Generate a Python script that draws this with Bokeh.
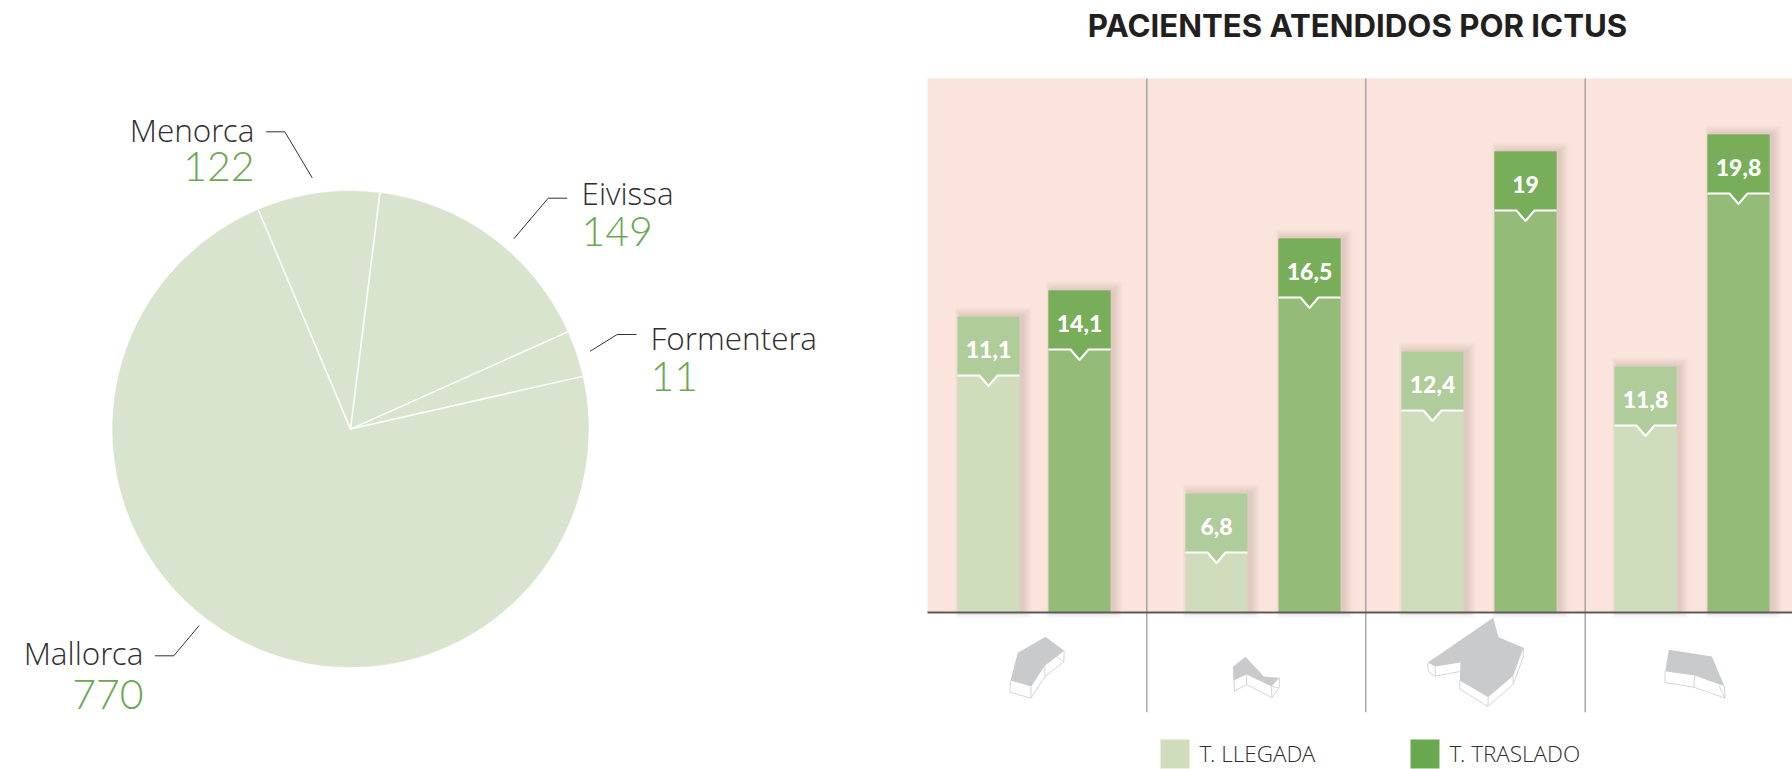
from math import radians, cos, sin
from bokeh.plotting import figure
from bokeh.models import Range1d
from bokeh.core.properties import value
from bokeh.embed import file_html
from bokeh.resources import INLINE

# ---- data ----
TITLE = "PACIENTES ATENDIDOS POR ICTUS"
islands = ["Menorca", "Eivissa", "Formentera", "Mallorca"]
patients = ["122", "149", "11", "770"]
# The drawn slices are not proportional to the printed numbers: spans as measured (degrees)
slice_degrees = [29.9, 58.8, 11.3, 260.0]

llegada_labels = ["11,1", "6,8", "12,4", "11,8"]
traslado_labels = ["14,1", "16,5", "19", "19,8"]
# The drawn bars are not proportional to the printed labels: bar heights as measured
llegada_heights = [296, 119, 261, 246]
traslado_heights = [322, 374, 461, 478]
legend_labels = ["T. LLEGADA", "T. TRASLADO"]

# ---- styles ----
PINK = "#fbe4dc"
PIE = "#d8e4ce"
GREEN = "#6aa84f"
TXT = "#2f2d2e"
LIGHT_BODY, LIGHT_CAP = "#d0ddbd", "#b0cc9b"
DARK_BODY, DARK_CAP = "#94bc78", "#78ae5a"
NAMEF = value("Open Sans Light")
NUMF = value("Lato Light")
REGF = value("Inter")
BLACKF = value("Lato Black")

W, H = 1792, 769
K = 0.37  # raises a text so that the y given is its baseline


def Y(y):
    """page pixel row -> main y range"""
    return H - y


def label(x, y, txt, size, font, color, align="left", **kw):
    p.text([x], [y], text=[txt], text_font=font, text_font_size=f"{size}px", text_color=color,
           text_align=align, text_baseline="alphabetic", y_offset=-K * size, **kw)


BASE = Y(612)
p = figure(width=W, height=H, x_range=Range1d(0, W), y_range=Range1d(0, H),
           output_backend="svg", toolbar_location=None, min_border=0,
           background_fill_color="white", border_fill_color="white", outline_line_color=None)
p.axis.visible = False
p.grid.visible = False
p.extra_y_ranges = {"bars": Range1d(-BASE, H - BASE)}

# ---- pie ----
CX, CY, R = 350, Y(428.6), 238
start = 112.8
edges = [start]
for d in slice_degrees:
    edges.append(edges[-1] - d)
p.wedge(x=[CX] * 4, y=[CY] * 4, radius=R, start_angle=edges[:-1], end_angle=edges[1:],
        start_angle_units="deg", end_angle_units="deg", direction="clock",
        fill_color=PIE, line_color=PIE, line_width=0.5)
p.segment(x0=[CX] * 4, y0=[CY] * 4,
          x1=[CX + R * cos(radians(a)) for a in edges[:-1]],
          y1=[CY + R * sin(radians(a)) for a in edges[:-1]],
          line_color="white", line_width=1.5)

# labels: x, name baseline, number baseline, align
label_pos = [(254, 141, 181, "right"), (581, 204, 246, "left"),
             (650, 349, 391, "left"), (143, 664, 709, "right")]
for (x, yn, yv, al), name, num in zip(label_pos, islands, patients):
    label(x, Y(yn), name, 31.5, NAMEF, TXT, al)
    label(x, Y(yv), num, 41, NUMF, GREEN, al)
leaders = [[(265.7, 131.3), (284.3, 131.3), (311.7, 177.3)],
           [(566.7, 197.7), (547.7, 197.7), (513.3, 238.3)],
           [(636, 334), (616.7, 334), (589.7, 350.7)],
           [(154.3, 655.3), (173.3, 655.3), (198.7, 625)]]
for l in leaders:
    p.line([a for a, _ in l], [Y(b) for _, b in l], line_color="#333333", line_width=1)

# ---- bar panel ----
label(1357, Y(37), TITLE, 31.2, REGF, "#231f20", "center", text_font_style="bold")
p.quad(left=[927], right=[W], top=[Y(78)], bottom=[BASE], fill_color=PINK, line_color=None)
dividers = [1146.3, 1365.3, 1584.7]
p.segment(x0=dividers, x1=dividers, y0=[Y(78)] * 3, y1=[Y(711.7)] * 3, line_color="#9a9a9a", line_width=1.3)

BAR_W = 62
CAP = 59
left_edges = [(957, 1048), (1185, 1278), (1401, 1494), (1614, 1707)]

bars = []
for i, (a, b) in enumerate(left_edges):
    bars.append((a, llegada_heights[i], llegada_labels[i], LIGHT_BODY, LIGHT_CAP))
    bars.append((b, traslado_heights[i], traslado_labels[i], DARK_BODY, DARK_CAP))

# soft shadows, stacked translucent rectangles
for k in range(1, 10):
    p.quad(left=[b[0] + 3 - k * 0.6 for b in bars], right=[b[0] + BAR_W + 3 + k for b in bars],
           top=[b[1] + k for b in bars], bottom=[-k * 0.6] * 8,
           fill_color="#3f3a30", fill_alpha=0.015, line_color=None, y_range_name="bars")

for x, h, lab, body, cap in bars:
    p.quad(left=[x], right=[x + BAR_W], top=[h], bottom=[0], fill_color=body, line_color=None, y_range_name="bars")
    c = x + BAR_W / 2
    ly = h - CAP
    p.patch([x, x + BAR_W, x + BAR_W, c + 9, c, c - 9, x], [h, h, ly, ly, ly - 10.5, ly, ly],
            fill_color=cap, line_color=None, y_range_name="bars")
    p.line([x, c - 9, c, c + 9, x + BAR_W], [ly, ly, ly - 10.5, ly, ly], line_color="white", line_width=2,
           y_range_name="bars")
    label(c, h - 41.5, lab, 23, BLACKF, "white", "center", y_range_name="bars")

p.segment(x0=[927], x1=[W], y0=[0], y1=[0], line_color="#5f5a58", line_width=2, y_range_name="bars")

# ---- building outlines under each group (decoration) ----
GRAY, WIRE = "#c9cacc", "#d4d5d6"
def shape(ox, oy, roof, wires):
    p.patch([ox + a / 3 for a, _ in roof], [Y(oy + b / 3) for _, b in roof], fill_color=GRAY, line_color=None)
    for w in wires:
        p.line([ox + a / 3 for a, _ in w], [Y(oy + b / 3) for _, b in w], line_color=WIRE, line_width=1)

shape(920, 590, [(292, 187), (375, 139), (431, 181), (373, 226), (332, 288), (270, 270)],
      [[(270, 270), (268, 305), (331, 323), (332, 288)], [(331, 323), (373, 258), (373, 226)],
       [(373, 258), (430, 214), (431, 181)], [(408, 197), (430, 214)]])
shape(920, 590, [(938, 228), (975, 199), (1030, 258), (1077, 262), (1053, 288), (978, 252), (940, 270)],
      [[(938, 228), (942, 302), (978, 282), (978, 252)], [(978, 282), (1054, 322), (1053, 288)],
       [(1054, 322), (1076, 292), (1077, 262)], [(1053, 288), (1076, 292)]])
shape(1350, 590, [(232, 216), (428, 82), (444, 140), (519, 172), (488, 256), (413, 320), (328, 270), (330, 216), (254, 228)],
      [[(232, 216), (233, 242), (254, 257), (254, 228)], [(254, 257), (328, 243)],
       [(328, 270), (328, 296), (412, 348), (413, 320)], [(412, 348), (488, 282), (488, 256)],
       [(488, 282), (518, 200), (519, 172)]])
shape(1350, 590, [(955, 178), (1084, 198), (1122, 287), (1032, 255), (944, 242)],
      [[(944, 242), (943, 276), (1030, 290), (1032, 255)], [(1030, 290), (1124, 323), (1122, 287)],
       [(1105, 285), (1124, 323)]])

# ---- legend ----
legend_x = [1160, 1410]
legend_fill = [LIGHT_BODY, GREEN]
for x, name, col in zip(legend_x, legend_labels, legend_fill):
    p.quad(left=[x], right=[x + 29], top=[Y(739)], bottom=[Y(768)], fill_color=col, line_color=None)
    label(x + 39, Y(761.7), name, 22.5, NAMEF, TXT)

open("out.html", "w").write(file_html(p, INLINE))
